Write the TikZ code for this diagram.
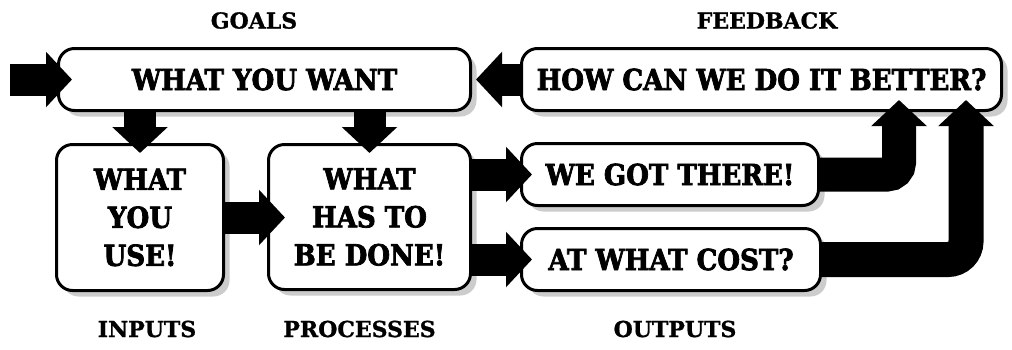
\documentclass[tikz,border=0pt]{standalone}
\usepackage{fontspec}
\newfontfamily\boxfont{DejaVu Serif Condensed Bold}[RawFeature={embolden=2.5}]
\newfontfamily\labfont{DejaVu Serif Bold}[RawFeature={embolden=1}]
\usetikzlibrary{arrows.meta,shadows,calc}
\begin{document}
\begin{tikzpicture}[x=1pt,y=-1pt,
  box/.style={draw, line width=3pt, rounded corners=16pt, fill=white, inner sep=0pt,
    align=center, font=\boxfont\fontsize{29}{38}\selectfont,
    drop shadow={shadow xshift=6pt,shadow yshift=-6pt,fill=black!20,opacity=1}},
  lab/.style={font=\labfont\fontsize{22}{26}\selectfont},
  fat/.style={line width=32pt, -{Triangle[length=26pt,width=54pt]}}]
\useasboundingbox (0,0) rectangle (1012,349);
% boxes
\node[box, minimum width=412pt, minimum height=62pt] (want) at (264.5,79.5) {WHAT YOU WANT};
\node[box, minimum width=480pt, minimum height=62pt] (how) at (761.5,79.5) {HOW CAN WE DO IT BETTER?};
\node[box, minimum width=167pt, minimum height=146pt] (use) at (140,217.5) {WHAT\\YOU\\USE!};
\node[box, minimum width=202pt, minimum height=145pt] (done) at (369.5,217) {WHAT\\HAS TO\\BE DONE!};
\node[box, minimum width=297pt, minimum height=62pt] (got) at (670,174.5) {WE GOT THERE!};
\node[box, minimum width=299pt, minimum height=62pt] (cost) at (671,259.5) {AT WHAT COST?};
% labels
\node[lab] (goals) at (254,20.5) {GOALS};
\node[lab] (feedback) at (767,20.5) {FEEDBACK};
\node[lab] (inputs) at (147,329) {INPUTS};
\node[lab] (processes) at (359.5,329) {PROCESSES};
\node[lab] (outputs) at (675,329) {OUTPUTS};
% arrows
\coordinate (in) at (10,79.5);
\coordinate (t1) at (899,100);
\coordinate (t2) at (966,100);
\draw[fat] (in) -- ($(want.west)+(15,0)$);
\draw[fat] (how.west) -- ($(want.east)+(4,0)$);
\draw[fat] (use.north |- want.south) -- ($(use.north)+(0,10)$);
\draw[fat] (done.north |- want.south) -- ($(done.north)+(0,10)$);
\draw[fat] (use.east) -- ($(use.east -| done.west)+(18,0)$);
\draw[fat] (done.east |- got.west) -- ($(got.west)+(12,0)$);
\draw[fat] (done.east |- cost.west) -- ($(cost.west)+(12,0)$);
\draw[fat, line width=34pt, rounded corners=12pt] (got.east) -| (t1);
\draw[fat, line width=35pt, rounded corners=18pt] (cost.east) -| (t2);
\end{tikzpicture}
\end{document}
